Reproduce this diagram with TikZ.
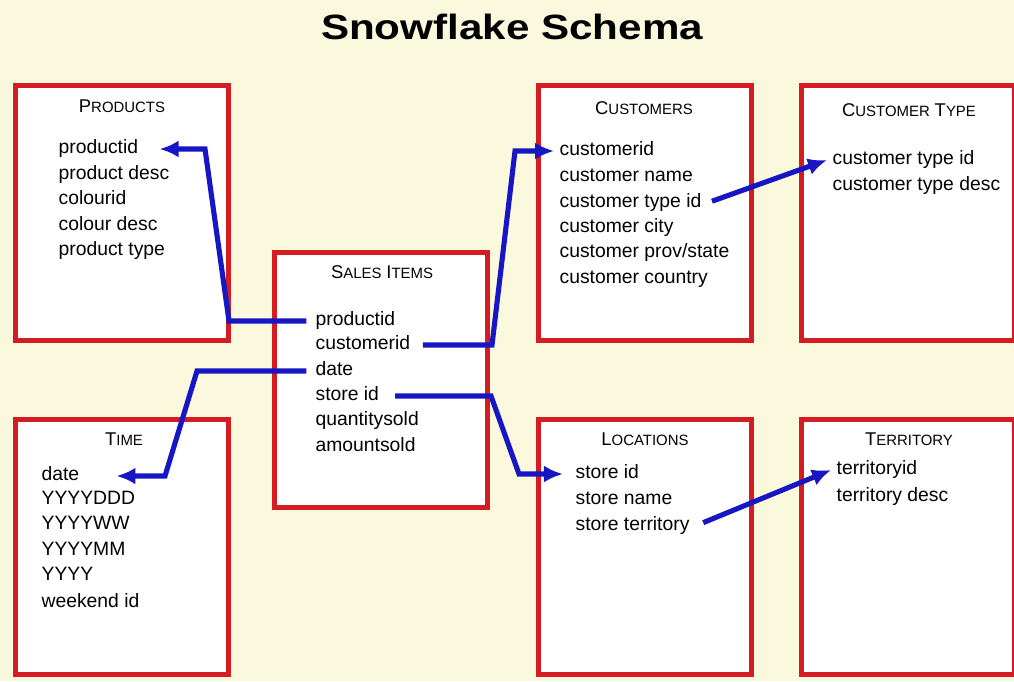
\documentclass[tikz,border=0pt]{standalone}
\usepackage{fontspec}
\setmainfont{Liberation Sans}
\usetikzlibrary{arrows.meta,positioning}

\definecolor{paper}{RGB}{250,248,221}
\definecolor{boxred}{RGB}{212,28,34}
\definecolor{linkblue}{RGB}{22,22,196}

% small-caps look for the table names
\newcommand{\tabcap}[2]{{\fontsize{10.5}{12}\selectfont #1}{\fontsize{8.5}{10}\selectfont #2}}

\begin{document}
\begin{tikzpicture}[x=0.02cm,y=-0.02cm,>={Latex[length=0.38cm,width=0.34cm]},
  tablebox/.style={draw=boxred,line width=2.8pt,fill=white,minimum width=4.26cm,minimum height=5.1cm,inner sep=0pt},
  tabtitle/.style={inner sep=0pt},
  attr/.style={anchor=west,inner xsep=3pt,inner ysep=0pt,text height=8pt,text depth=2.5pt,font=\fontsize{11}{13}\selectfont},
  link/.style={->,draw=linkblue,line width=2.9pt}]
\useasboundingbox (0,0) rectangle (1014,681);
\fill[paper] (0,0) rectangle (1014,681);

\node[inner sep=0pt,font=\bfseries\fontsize{20}{24}\selectfont,xscale=1.2,transform shape] (title) at (512,27) {Snowflake Schema};

% tables
\node[tablebox] (products) at (122,213) {};
\node[tablebox] (sales) at (381,380) {};
\node[tablebox] (time) at (122,547) {};
\node[tablebox] (customers) at (645,213) {};
\node[tablebox] (ctype) at (908,213) {};
\node[tablebox] (locations) at (645,547) {};
\node[tablebox] (territory) at (908,547) {};

\node[tabtitle] (products_t) at (122,106) {\tabcap{P}{RODUCTS}};
\node[tabtitle] (sales_t) at (382,272) {\tabcap{S}{ALES} \tabcap{I}{TEMS}};
\node[tabtitle] (time_t) at (124,439) {\tabcap{T}{IME}};
\node[tabtitle] (customers_t) at (644,108) {\tabcap{C}{USTOMERS}};
\node[tabtitle] (ctype_t) at (909,110) {\tabcap{C}{USTOMER} \tabcap{T}{YPE}};
\node[tabtitle] (locations_t) at (645,439) {\tabcap{L}{OCATIONS}};
\node[tabtitle] (territory_t) at (909,439) {\tabcap{T}{ERRITORY}};

% fields
\node[attr] (prod_id) at (53,149) {productid};
\node[attr] (prod_desc) at (53,175) {product desc};
\node[attr] (prod_col) at (53,200) {colourid};
\node[attr] (prod_cold) at (53,226) {colour desc};
\node[attr] (prod_type) at (53,251) {product type};

\node[attr] (sale_prod) at (310,321) {productid};
\node[attr] (sale_cust) at (310,345) {customerid};
\node[attr] (sale_date) at (310,371) {date};
\node[attr] (sale_store) at (310,396) {store id};
\node[attr] (sale_qty) at (310,421) {quantitysold};
\node[attr] (sale_amt) at (310,447) {amountsold};

\node[attr] (time_date) at (36,476) {date};
\node[attr] (time_ddd) at (36,500) {YYYYDDD};
\node[attr] (time_ww) at (36,525) {YYYYWW};
\node[attr] (time_mm) at (36,551) {YYYYMM};
\node[attr] (time_yy) at (36,576) {YYYY};
\node[attr] (time_wk) at (36,603) {weekend id};

\node[attr] (cust_id) at (554,151) {customerid};
\node[attr] (cust_name) at (554,177) {customer name};
\node[attr] (cust_type) at (554,203) {customer type id};
\node[attr] (cust_city) at (554,228) {customer city};
\node[attr] (cust_prov) at (554,253) {customer prov/state};
\node[attr] (cust_cntry) at (554,279) {customer country};

\node[attr] (ctype_id) at (827,160) {customer type id};
\node[attr] (ctype_desc) at (827,186) {customer type desc};

\node[attr] (loc_id) at (570,474) {store id};
\node[attr] (loc_name) at (570,500) {store name};
\node[attr] (loc_terr) at (570,526) {store territory};

\node[attr] (terr_id) at (831,470) {territoryid};
\node[attr] (terr_desc) at (831,497) {territory desc};

% joins
\draw[link,shorten <=2pt,shorten >=9pt] (sale_prod.west) -- (229,321) -- (205,149) -- (prod_id.east);
\draw[link,shorten <=4pt] (sale_cust.east) -- (492,345) -- (515,151) -- (cust_id.west);
\draw[link,shorten <=2pt,shorten >=18pt] (sale_date.west) -- (197,371) -- (165,476) -- (time_date.east);
\draw[link,shorten <=6pt,shorten >=4pt] (sale_store.east) -- (491,396) -- (519,474) -- (loc_id.west);
\draw[link,shorten <=3pt] (cust_type.east) -- (ctype_id.west);
\draw[link,shorten <=5pt] (loc_terr.east) -- (terr_id.west);
\end{tikzpicture}
\end{document}
